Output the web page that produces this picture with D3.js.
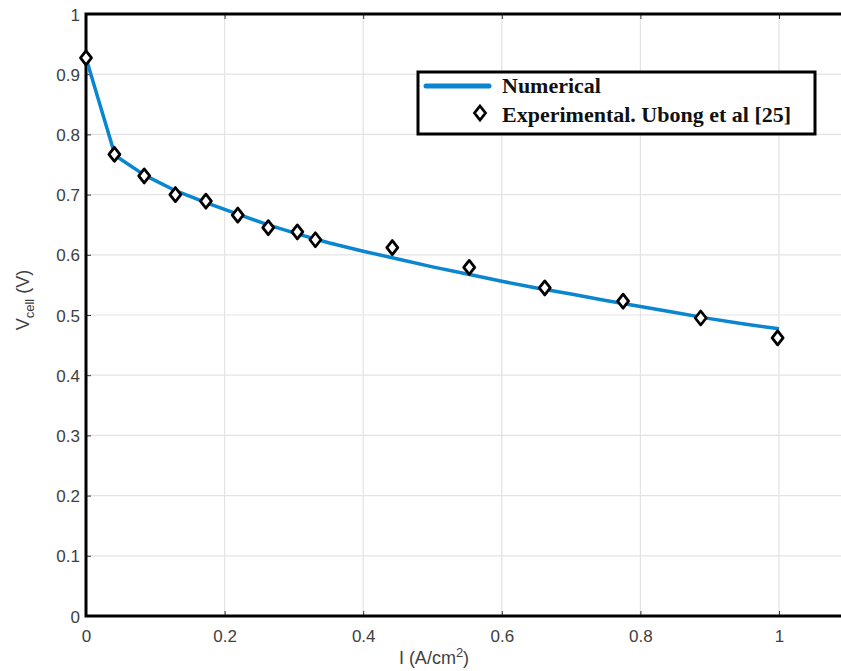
<!DOCTYPE html>
<html>
<head>
<meta charset="utf-8">
<script src="https://cdn.jsdelivr.net/npm/d3@7"></script>
<style>
  html, body { margin: 0; padding: 0; background: #fff; }
  svg { display: block; }
</style>
</head>
<body>
<svg id="chart" width="841" height="671"></svg>
<script>
// ---- data ----
const numI = [0, 0.042, 0.085, 0.13, 0.175, 0.22, 0.265, 0.31, 0.35, 0.4, 0.45, 0.5, 0.55, 0.6, 0.65, 0.7, 0.75, 0.8, 0.85, 0.9, 0.95, 1.0];
const numV = [0.927, 0.765, 0.732, 0.706, 0.686, 0.667, 0.649, 0.633, 0.620, 0.606, 0.593, 0.580, 0.568, 0.556, 0.545, 0.535, 0.524, 0.514, 0.504, 0.494, 0.485, 0.477];
const expI = [0, 0.041, 0.084, 0.129, 0.173, 0.219, 0.263, 0.305, 0.331, 0.442, 0.553, 0.662, 0.775, 0.887, 0.998];
const expV = [0.927, 0.767, 0.731, 0.700, 0.689, 0.666, 0.645, 0.638, 0.625, 0.612, 0.579, 0.545, 0.523, 0.495, 0.462];
const xTicks = [0, 0.2, 0.4, 0.6, 0.8, 1];
const xTickLabels = ["0", "0.2", "0.4", "0.6", "0.8", "1"];
const yTicks = [0, 0.1, 0.2, 0.3, 0.4, 0.5, 0.6, 0.7, 0.8, 0.9, 1];
const yTickLabels = ["0", "0.1", "0.2", "0.3", "0.4", "0.5", "0.6", "0.7", "0.8", "0.9", "1"];
const legendLabels = ["Numerical", "Experimental. Ubong et al [25]"];

// ---- layout ----
const svg = d3.select("#chart");
const x = d3.scaleLinear().domain([0, 1.1]).range([86, 848.3]);
const y = d3.scaleLinear().domain([0, 1]).range([616, 14]);
const lineColor = "#0a86d0";
const tickFont = "'Liberation Sans', Arial, Helvetica, sans-serif";

// grid
const grid = svg.append("g");
grid.selectAll("line.gx").data(xTicks.slice(1)).enter().append("line")
  .attr("x1", d => x(d)).attr("x2", d => x(d))
  .attr("y1", y(0)).attr("y2", y(1))
  .attr("stroke", "#e3e3e3").attr("stroke-width", 1.2);
grid.selectAll("line.gy").data(yTicks.slice(1)).enter().append("line")
  .attr("x1", x(0)).attr("x2", 841)
  .attr("y1", d => y(d)).attr("y2", d => y(d))
  .attr("stroke", "#e3e3e3").attr("stroke-width", 1.2);

// axes (ticks inward)
const xAxisB = d3.axisBottom(x).tickValues(xTicks).tickSize(-5).tickFormat((d, i) => xTickLabels[i]);
const xAxisT = d3.axisTop(x).tickValues(xTicks).tickSize(-5).tickFormat("");
const yAxisL = d3.axisLeft(y).tickValues(yTicks).tickSize(-5).tickFormat((d, i) => yTickLabels[i]);

function styleAxis(g) {
  g.select(".domain").remove();
  g.selectAll(".tick line").attr("stroke", "#333").attr("stroke-width", 1);
  g.selectAll(".tick text").attr("fill", "#404040")
    .style("font-family", tickFont).style("font-size", "17px");
}
svg.append("g").attr("transform", `translate(0,${y(0)})`).call(xAxisB).call(styleAxis)
  .selectAll(".tick text").attr("dy", null).attr("y", 26);
svg.append("g").attr("transform", `translate(0,${y(1)})`).call(xAxisT).call(styleAxis);
svg.append("g").attr("transform", `translate(${x(0)},0)`).call(yAxisL).call(styleAxis)
  .selectAll(".tick text").attr("x", -6).attr("dy", "0.36em");

// frame
svg.append("path")
  .attr("d", `M841,${y(1)} L${x(0)},${y(1)} L${x(0)},${y(0)} L841,${y(0)}`)
  .attr("fill", "none").attr("stroke", "#000").attr("stroke-width", 3);

// numerical line
const line = d3.line().x(d => x(d[0])).y(d => y(d[1]));
svg.append("path")
  .datum(numI.map((v, i) => [v, numV[i]]))
  .attr("d", line)
  .attr("fill", "none").attr("stroke", lineColor).attr("stroke-width", 3.5)
  .attr("stroke-linejoin", "round");

// experimental diamonds
const diamond = "M0,-7 L5.5,0 L0,7 L-5.5,0 Z";
svg.append("g").selectAll("path").data(expI.map((v, i) => [v, expV[i]])).enter().append("path")
  .attr("d", diamond)
  .attr("transform", d => `translate(${x(d[0])},${y(d[1])})`)
  .attr("fill", "#fff").attr("stroke", "#000").attr("stroke-width", 2.8)
  .attr("stroke-linejoin", "round");

// axis labels
const xl = svg.append("text")
  .attr("x", 434).attr("y", 664).attr("text-anchor", "middle")
  .attr("fill", "#404040").style("font-family", tickFont).style("font-size", "18px");
xl.append("tspan").text("I (A/cm");
xl.append("tspan").attr("dy", -7).style("font-size", "13px").text("2");
xl.append("tspan").attr("dy", 7).text(")");

const yl = svg.append("text")
  .attr("transform", "translate(29,300) rotate(-90)")
  .attr("text-anchor", "middle")
  .attr("fill", "#404040").style("font-family", tickFont).style("font-size", "18px");
yl.append("tspan").text("V");
yl.append("tspan").attr("dy", 5).style("font-size", "13px").text("cell");
yl.append("tspan").attr("dy", -5).text(" (V)");

// legend
const lg = svg.append("g");
lg.append("rect").attr("x", 418).attr("y", 72).attr("width", 397).attr("height", 62)
  .attr("fill", "#fff").attr("stroke", "#000").attr("stroke-width", 3);
lg.append("line").attr("x1", 426).attr("x2", 489).attr("y1", 86).attr("y2", 86)
  .attr("stroke", lineColor).attr("stroke-width", 5).attr("stroke-linecap", "round");
lg.append("path").attr("d", diamond).attr("transform", "translate(480,113)")
  .attr("fill", "#fff").attr("stroke", "#000").attr("stroke-width", 2.8);
lg.selectAll("text").data(legendLabels).enter().append("text")
  .attr("x", 502).attr("y", (d, i) => i === 0 ? 93 : 122)
  .attr("fill", "#111")
  .style("font-family", "'Liberation Serif', 'Times New Roman', serif")
  .style("font-weight", "bold").style("font-size", "22px")
  .text(d => d);
</script>
</body>
</html>
